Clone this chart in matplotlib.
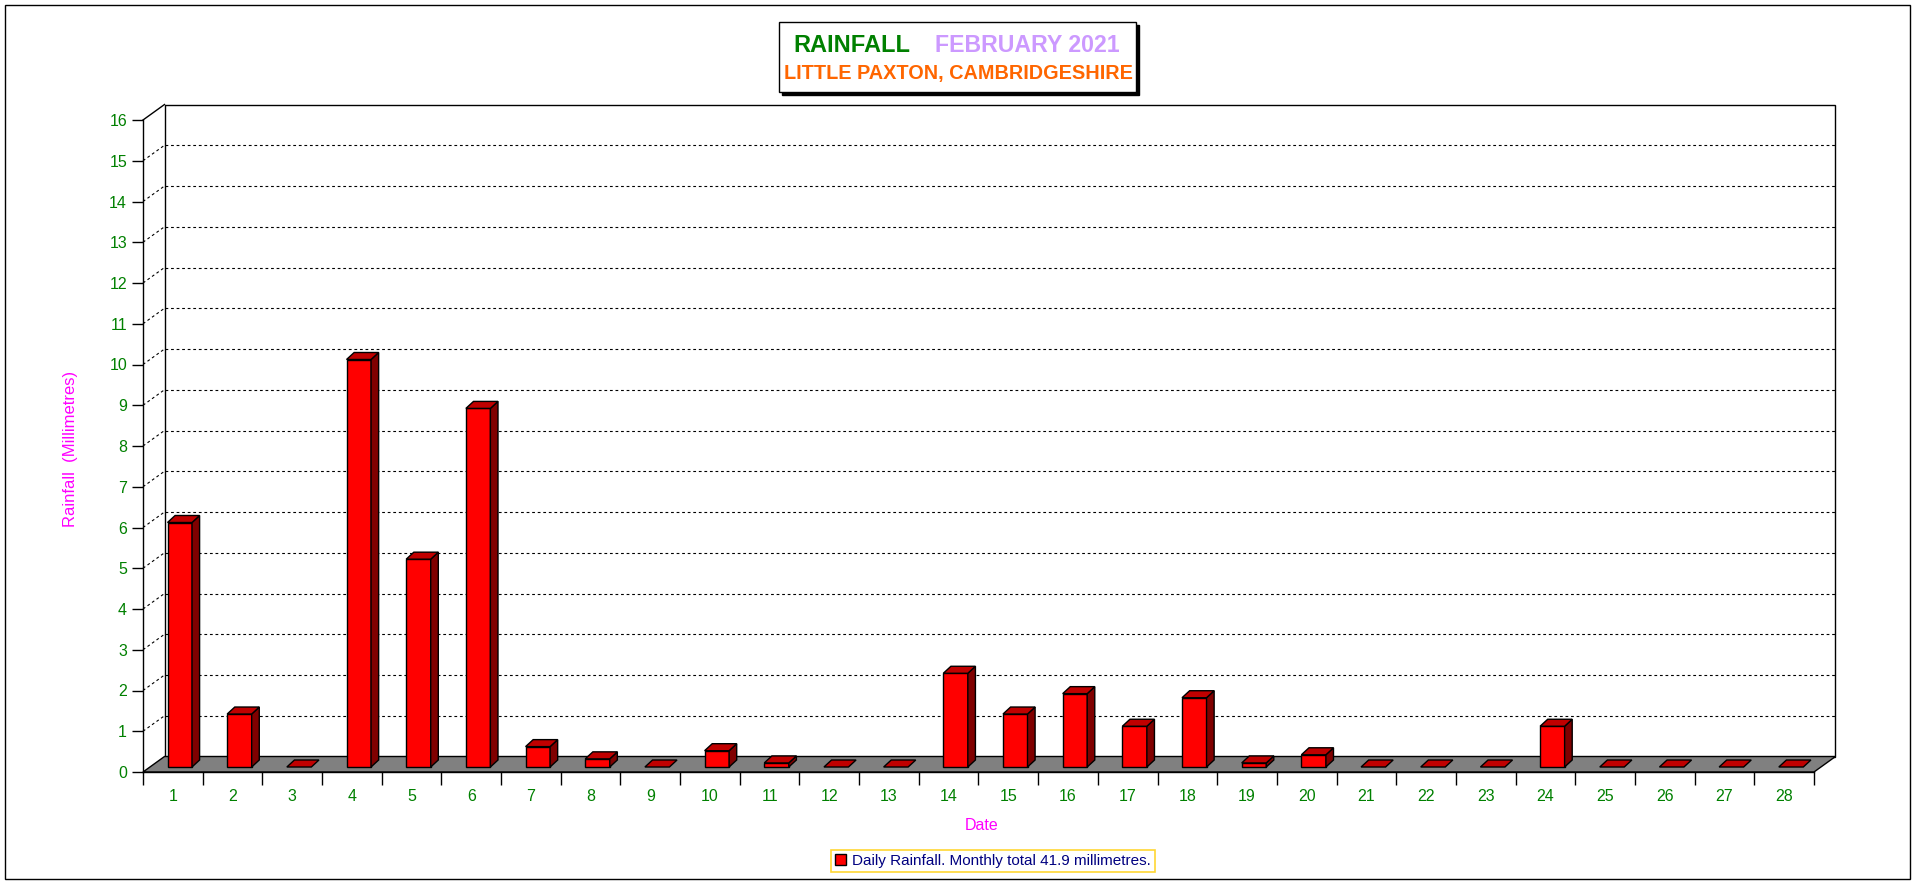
import matplotlib
matplotlib.use("Agg")
import matplotlib.pyplot as plt
from matplotlib.patches import Polygon, Rectangle

plt.rcParams['font.family'] = ['Liberation Sans', 'DejaVu Sans']

# ---- data ----
days = list(range(1, 29))
rainfall = [6.0, 1.3, 0.0, 10.0, 5.1, 8.8, 0.5, 0.2, 0.0, 0.4,
            0.1, 0.0, 0.0, 2.3, 1.3, 1.8, 1.0, 1.7, 0.1, 0.3,
            0.0, 0.0, 0.0, 1.0, 0.0, 0.0, 0.0, 0.0]
y_ticks = list(range(0, 17))
title_main = "RAINFALL"
title_month = "FEBRUARY 2021"
title_place = "LITTLE PAXTON, CAMBRIDGESHIRE"
y_label = "Rainfall  (Millimetres)"
x_label = "Date"
series_name = "Daily Rainfall."

W, H = 1916, 884
fig = plt.figure(figsize=(W / 100, H / 100), dpi=100)
fig.patch.set_facecolor('white')

def fx(x):
    return x / W

def fy(y):
    return 1 - y / H

# front plane of the axes
ax_l, ax_r, ax_t, ax_b = 143, 1814, 120, 772
ax = fig.add_axes([fx(ax_l), fy(ax_b), (ax_r - ax_l) / W, (ax_b - ax_t) / H])
n = len(days)
ymax = y_ticks[-1]
ax.set_xlim(0, n)
ax.set_ylim(0, ymax)
ax.set_facecolor('none')
for s in ['top', 'right']:
    ax.spines[s].set_visible(False)
ax.spines['left'].set_linewidth(1.0)
ax.spines['bottom'].set_linewidth(1.0)
ax.spines['left'].set_zorder(6)
ax.spines['bottom'].set_zorder(6)

ux = (ax_r - ax_l) / n      # px per category
uy = (ax_b - ax_t) / ymax   # px per mm
DX = 21.5 / ux
DY = 15.5 / uy

green = '#008000'
# back wall
ax.add_patch(Rectangle((DX, DY), n, ymax, facecolor='white', edgecolor='black',
                       lw=1.0, clip_on=False, zorder=1))
# top-left diagonal
ax.plot([0, DX], [ymax, ymax + DY], color='black', lw=1.0, clip_on=False, zorder=2)
# gridlines
for v in y_ticks[1:-1]:
    ax.plot([DX, n + DX], [v + DY, v + DY], color='black', lw=0.8,
            ls=(0, (2.5, 2.5)), clip_on=False, zorder=2)
    ax.plot([0, DX], [v, v + DY], color='black', lw=0.8,
            ls=(0, (2.5, 2.5)), clip_on=False, zorder=2)
# floor
ax.add_patch(Polygon([(0, 0), (n, 0), (n + DX, DY), (DX, DY)], closed=True,
                     facecolor='#808080', edgecolor='black', lw=1.0,
                     clip_on=False, zorder=3))

# bars
BAR_OFF = 24.5 / ux
BAR_W = 24.5 / ux
BDX = 7.6 / ux
BDY = 7.0 / uy
BASE = 5.0 / uy
front_c, top_c, side_c = '#FF0000', '#C00000', '#800000'
for i, v in enumerate(rainfall):
    x0 = i + BAR_OFF
    y0 = BASE
    if v > 0:
        ax.bar(x0, v, width=BAR_W, bottom=y0, align='edge', color=front_c,
               edgecolor='black', lw=1.0, zorder=4, clip_on=False)
        ax.add_patch(Polygon([(x0 + BAR_W, y0), (x0 + BAR_W + BDX, y0 + BDY),
                              (x0 + BAR_W + BDX, y0 + v + BDY), (x0 + BAR_W, y0 + v)],
                             closed=True, facecolor=side_c, edgecolor='black',
                             lw=1.0, zorder=4, clip_on=False))
    ax.add_patch(Polygon([(x0, y0 + v), (x0 + BAR_W, y0 + v),
                          (x0 + BAR_W + BDX, y0 + v + BDY), (x0 + BDX, y0 + v + BDY)],
                         closed=True, facecolor=top_c, edgecolor='black',
                         lw=1.0, zorder=4, clip_on=False))

# ticks
ax.set_yticks(y_ticks)
ax.set_yticklabels([str(t) for t in y_ticks])
ax.tick_params(axis='y', direction='out', length=8, width=1, colors='black',
               labelcolor=green, labelsize=11.5, pad=3.5)
ax.set_xticks(range(0, n + 1))
ax.set_xticklabels([])
ax.set_xticks([i + 0.5 for i in range(n)], minor=True)
ax.set_xticklabels([str(d) for d in days], minor=True)
ax.tick_params(axis='x', which='major', direction='out', length=9, width=1, colors='black')
ax.tick_params(axis='x', which='minor', length=0, labelcolor=green, labelsize=11.5, pad=12)

# axis titles
fig.text(fx(70), fy(449), y_label, rotation=90, color='#FF00FF', fontsize=12,
         ha='center', va='center')
fig.text(fx(982), fy(826), x_label, color='#FF00FF', fontsize=11.5,
         ha='center', va='center')

# title box with shadow
bx0, by0, bx1, by1 = 779, 22, 1136, 92
fig.add_artist(Rectangle((fx(bx0 + 3), fy(by1 + 3)), (bx1 - bx0) / W, (by1 - by0) / H,
                         transform=fig.transFigure, facecolor='black', edgecolor='black',
                         lw=1, zorder=1))
fig.add_artist(Rectangle((fx(bx0), fy(by1)), (bx1 - bx0) / W, (by1 - by0) / H,
                         transform=fig.transFigure, facecolor='white', edgecolor='black',
                         lw=1, zorder=2))
fig.text(fx(793), fy(45), title_main, color=green, fontsize=17, fontweight='bold',
         ha='left', va='center', zorder=3)
fig.text(fx(935), fy(45), title_month, color='#CC99FF', fontsize=16.7, fontweight='bold',
         ha='left', va='center', zorder=3)
fig.text(fx(958), fy(74), title_place, color='#FF6600', fontsize=14.3, fontweight='bold',
         ha='center', va='center', zorder=3)

# legend
total = sum(rainfall)
label = f"{series_name} Monthly total {total:.1f} millimetres."
handle = Rectangle((0, 0), 1, 1, facecolor=front_c, edgecolor='black', lw=1)
leg = fig.legend([handle], [label], loc='center', bbox_to_anchor=(fx(993), fy(861)),
                 fontsize=11, frameon=True, fancybox=False, handlelength=0.7,
                 handleheight=0.7, handletextpad=0.4, borderpad=0.25,
                 borderaxespad=0)
leg.get_frame().set_edgecolor('#FFCC00')
leg.get_frame().set_linewidth(1.2)
for t in leg.get_texts():
    t.set_color('#000080')

# outer border
fig.add_artist(Rectangle((fx(5), fy(879)), 1905 / W, 874 / H, transform=fig.transFigure,
                         facecolor='none', edgecolor='black', lw=1, zorder=0))

fig.savefig('out.png', dpi=100)
